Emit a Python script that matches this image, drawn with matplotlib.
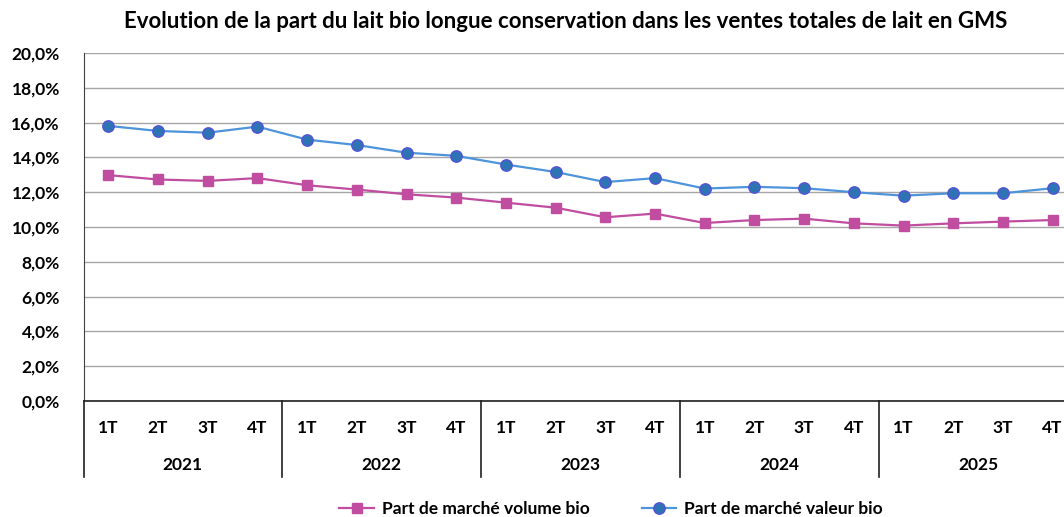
import numpy as np
import matplotlib.pyplot as plt
from matplotlib.ticker import FuncFormatter
import matplotlib.transforms as mtransforms

plt.rcParams['font.family'] = ['Lato', 'DejaVu Sans']
plt.rcParams['font.weight'] = 'bold'

years = ['2021', '2022', '2023', '2024', '2025']
quarters = ['1T', '2T', '3T', '4T']
# part de marche (%), 4 trimestres par annee
volume_bio = [12.98, 12.73, 12.65, 12.81, 12.40, 12.15, 11.88, 11.69, 11.40, 11.11,
              10.56, 10.77, 10.23, 10.40, 10.48, 10.21, 10.08, 10.21, 10.31, 10.40]
valeur_bio = [15.81, 15.52, 15.42, 15.77, 15.02, 14.71, 14.27, 14.09, 13.59, 13.16,
              12.58, 12.81, 12.21, 12.31, 12.23, 12.00, 11.80, 11.94, 11.94, 12.23]

W, H = 1064, 517
fig = plt.figure(figsize=(W / 100, H / 100), dpi=100)
left, right, top, bottom = 83.5, 83.5 + 20 * 49.7, 53, 401
ax = fig.add_axes([left / W, 1 - bottom / H, (right - left) / W, (bottom - top) / H])

x = np.arange(len(volume_bio))
ax.plot(x, volume_bio, color='#C04DA0', lw=1.6, marker='s', ms=7.7,
        mfc='#C04DA0', mec='#C04DA0', label='Part de marché volume bio', zorder=3)
ax.plot(x, valeur_bio, color='#4D94DB', lw=1.6, marker='o', ms=8.2,
        mfc='#2E74B5', mec='#5552D6', mew=1.0, label='Part de marché valeur bio', zorder=3)

ax.set_xlim(-0.5, len(x) - 0.5)
ax.set_ylim(0, 20)
ax.set_yticks(np.arange(0, 21, 2))
ax.yaxis.set_major_formatter(FuncFormatter(lambda v, p: f'{v:.1f}%'.replace('.', ',')))
ax.tick_params(axis='y', length=0, pad=17, labelsize=12.5)
ax.grid(axis='y', color='#A6A6A6', lw=1)
ax.set_axisbelow(True)

ax.set_xticks(x)
ax.set_xticklabels(quarters * len(years))
ax.tick_params(axis='x', length=0, pad=14, labelsize=12.5)

for s in ['top', 'right']:
    ax.spines[s].set_visible(False)
ax.spines['left'].set_color('#404040')
ax.spines['bottom'].set_color('#202020')
ax.spines['bottom'].set_linewidth(1.2)

trans = mtransforms.blended_transform_factory(ax.transData, ax.transAxes)
axh = bottom - top
yb = -76 / axh
for i, yr in enumerate(years):
    ax.text(i * 4 + 1.5, -64 / axh, yr, transform=trans, ha='center', va='center',
            fontsize=12.5, fontweight='bold')
for i in range(len(years) + 1):
    ax.plot([i * 4 - 0.5, i * 4 - 0.5], [0, yb], transform=trans, color='#202020',
            lw=1.2, clip_on=False)

fig.text(566 / W, 1 - 22 / H,
         'Evolution de la part du lait bio longue conservation dans les ventes totales de lait en GMS',
         ha='center', va='center', fontsize=16, fontweight='bold')

fig.legend(loc='center', bbox_to_anchor=(611 / W, 1 - 509 / H), ncol=2, frameon=False,
           fontsize=12.5, handlelength=2.0, columnspacing=3.0, handletextpad=0.45)

fig.savefig('out.png', dpi=100)
